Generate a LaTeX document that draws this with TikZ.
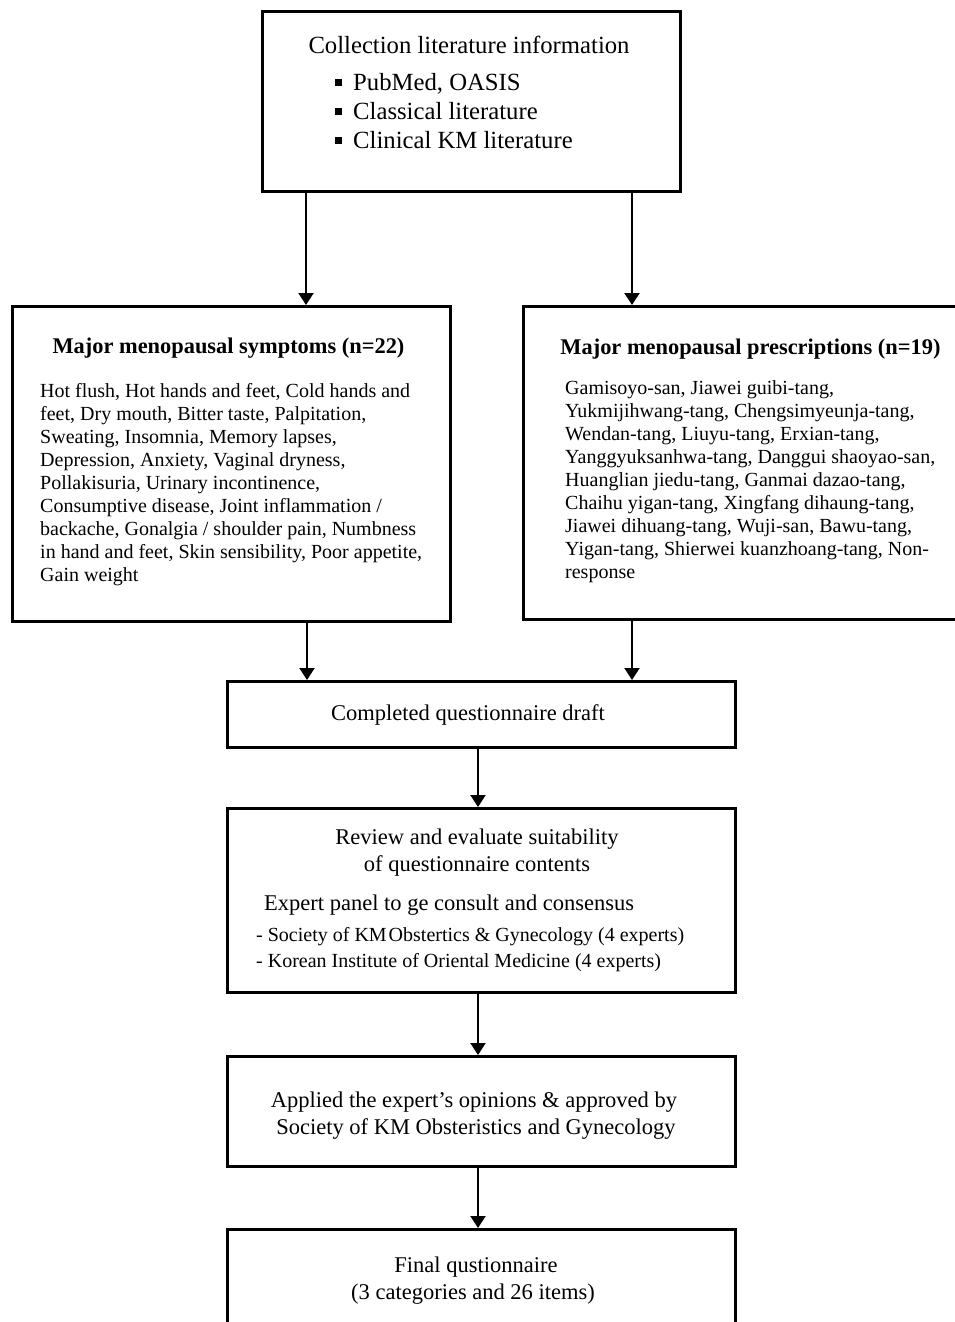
\documentclass[tikz,border=0pt]{standalone}
\usepackage{fontspec}
\setmainfont{Liberation Serif}
\usetikzlibrary{arrows.meta}
\begin{document}
\begin{tikzpicture}[x=1pt,y=1pt,
  box/.style={draw, line width=3pt, inner sep=0pt, anchor=north west},
  arr/.style={line width=2pt, -{Triangle[width=15pt,length=12pt]}},
  t/.style={inner sep=0pt},
  fbody/.style={t, font=\fontsize{20}{23}\selectfont},
  fbig/.style={t, font=\fontsize{22.5}{27}\selectfont},
  ftop/.style={t, font=\fontsize{24.7}{29}\selectfont},
  fhead/.style={t, font=\fontsize{22.4}{27}\selectfont\bfseries}]
\useasboundingbox (0,0) rectangle (955,-1322);
% boxes
\node[box, minimum width=418pt, minimum height=180pt] (src) at (261,-10) {};
\node[box, minimum width=438pt, minimum height=315pt] (sym) at (11,-305) {};
\node[box, minimum width=440pt, minimum height=313pt] (pre) at (522,-305) {};
\node[box, minimum width=508pt, minimum height=66pt] (draft) at (226,-680) {};
\node[box, minimum width=508pt, minimum height=184pt] (rev) at (226,-807) {};
\node[box, minimum width=508pt, minimum height=110pt] (app) at (226,-1055) {};
\node[box, minimum width=508pt, minimum height=120pt] (fin) at (226,-1228) {};
% top box text
\node[ftop, anchor=base] (srcT) at (469,-53) {Collection literature information};
\foreach \yy/\tx [count=\i] in {-90/{PubMed, OASIS},-119/{Classical literature},-148/{Clinical KM literature}}{
  \fill (335,\yy+4) rectangle ++(7,7);
  \node[ftop, anchor=base west] (srcB\i) at (353,\yy) {\tx};
}
% symptoms
\node[fhead, anchor=base] (symH) at (228.5,-353) {Major menopausal symptoms (n=22)};
\node[fbody, anchor=base west, align=left] (symB) at (40,-581) {%
Hot flush, Hot hands and feet, Cold hands and\\
feet, Dry mouth, Bitter taste, Palpitation,\\
Sweating, Insomnia, Memory lapses,\\
Depression, Anxiety, Vaginal dryness,\\
Pollakisuria, Urinary incontinence,\\
Consumptive disease, Joint inflammation /\\
backache, Gonalgia / shoulder pain, Numbness\\
in hand and feet, Skin sensibility, Poor appetite,\\
Gain weight};
% prescriptions
\node[fhead, anchor=base] (preH) at (750.5,-354) {Major menopausal prescriptions (n=19)};
\node[fbody, anchor=base west, align=left] (preB) at (565,-578) {%
Gamisoyo-san, Jiawei guibi-tang,\\
Yukmijihwang-tang, Chengsimyeunja-tang,\\
Wendan-tang, Liuyu-tang, Erxian-tang,\\
Yanggyuksanhwa-tang, Danggui shaoyao-san,\\
Huanglian jiedu-tang, Ganmai dazao-tang,\\
Chaihu yigan-tang, Xingfang dihaung-tang,\\
Jiawei dihuang-tang, Wuji-san, Bawu-tang,\\
Yigan-tang, Shierwei kuanzhoang-tang, Non-\\
response};
% draft
\node[fbig, anchor=base] (draftT) at (468,-720) {Completed questionnaire draft};
% review
\node[fbig, anchor=base] (rev1) at (477,-844) {Review and evaluate suitability};
\node[fbig, anchor=base] (rev2) at (477,-871) {of questionnaire contents};
\node[fbig, anchor=base west] (rev3) at (264,-910) {Expert panel to ge consult and consensus};
\node[fbody, anchor=base west] (rev4) at (256,-941) {- Society of KM\hspace{2pt}Obstertics \& Gynecology (4 experts)};
\node[fbody, anchor=base west] (rev5) at (256,-967) {- Korean Institute of Oriental Medicine (4 experts)};
% applied
\node[fbig, anchor=base] (app1) at (474,-1107) {Applied the expert’s opinions \& approved by};
\node[fbig, anchor=base] (app2) at (476,-1134) {Society of KM Obsteristics and Gynecology};
% final
\node[fbig, anchor=base] (fin1) at (476,-1272) {Final qustionnaire};
\node[fbig, anchor=base] (fin2) at (473,-1299) {(3 categories and 26 items)};
% connectors
\coordinate (xl) at (306,0);
\coordinate (xr) at (632,0);
\coordinate (xl2) at (307,0);
\coordinate (xc) at (478,0);
\draw[arr] (src.south -| xl) -- (sym.north -| xl);
\draw[arr] (src.south -| xr) -- (pre.north -| xr);
\draw[arr] (sym.south -| xl2) -- (draft.north -| xl2);
\draw[arr] (pre.south -| xr) -- (draft.north -| xr);
\draw[arr] (draft.south -| xc) -- (rev.north -| xc);
\draw[arr] (rev.south -| xc) -- (app.north -| xc);
\draw[arr] (app.south -| xc) -- (fin.north -| xc);
\end{tikzpicture}
\end{document}
